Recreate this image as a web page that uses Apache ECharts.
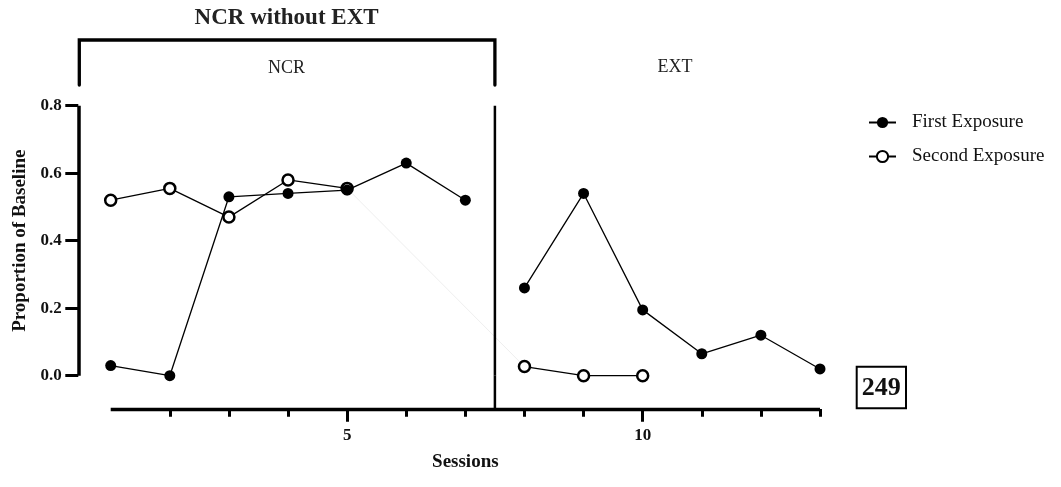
<!DOCTYPE html>
<html>
<head>
<meta charset="utf-8">
<script src="https://cdn.jsdelivr.net/npm/echarts@6/dist/echarts.min.js"></script>
<style>
  html, body { margin: 0; padding: 0; background: #fff; }
  #chart { width: 1061px; height: 487px; }
</style>
</head>
<body>
<div id="chart"></div>
<script>
// Sessions and proportion-of-baseline values for each exposure
const sessions = [1, 2, 3, 4, 5, 6, 7, 8, 9, 10, 11, 12, 13];
const firstExposure = [0.03, 0.00, 0.53, 0.54, 0.55, 0.63, 0.52, 0.26, 0.54, 0.195, 0.065, 0.12, 0.02];
const secondExposure = [0.52, 0.555, 0.47, 0.58, 0.555, null, null, 0.027, 0.0, 0.0, null, null, null];

// Phase boundary between NCR and EXT
const phaseChange = 7.5;
const phaseNames = ['NCR', 'EXT'];

// Axis ticks
const yTicks = [0, 0.2, 0.4, 0.6, 0.8];
const xMinorTicks = [2, 3, 4, 6, 7, 8, 9, 11, 12, 13];
const xMajorTicks = [5, 10];

const titleText = 'NCR without EXT';
const seriesNames = ['First Exposure', 'Second Exposure'];
const panelId = '249';

const FONT = '"Liberation Serif", "Times New Roman", serif';
const INK = '#000';

function pairs(xs, ys, keep) {
  const out = [];
  xs.forEach((x, i) => { if (ys[i] !== null && keep(x)) out.push([x, ys[i]]); });
  return out;
}

const chart = echarts.init(document.getElementById('chart'), null, { renderer: 'canvas' });

const lineStyle = { color: INK, width: 1.3 };
const filledMarker = { color: INK, borderColor: INK, borderWidth: 0 };
const openMarker = { color: '#fff', borderColor: INK, borderWidth: 2.5 };

// last point before and first point after the phase change for the second exposure
const secBefore = pairs(sessions, secondExposure, x => x < phaseChange).slice(-1)[0];
const secAfter = pairs(sessions, secondExposure, x => x > phaseChange)[0];

const option = {
  animation: false,
  backgroundColor: '#fff',
  textStyle: { fontFamily: FONT },
  grid: { left: 110.7, right: 241, top: 105.7, bottom: 111.3, containLabel: false },
  legend: {
    data: seriesNames,
    orient: 'vertical',
    left: 868,
    top: 113,
    padding: 0,
    itemWidth: 27,
    itemHeight: 14,
    itemGap: 15,
    textStyle: { fontFamily: FONT, fontSize: 19, color: '#111', padding: [0, 0, 0, 11] }
  },
  xAxis: [
    {
      type: 'value', min: 1, max: 13, interval: 1, position: 'bottom', offset: 33.3,
      axisLine: { show: true, onZero: false, lineStyle: { color: INK, width: 3.3, cap: 'butt' } },
      axisTick: { show: true, customValues: xMinorTicks, length: 7.7, lineStyle: { color: INK, width: 3 } },
      axisLabel: { show: false },
      splitLine: { show: false },
      name: 'Sessions', nameLocation: 'middle', nameGap: 44,
      nameTextStyle: { fontFamily: FONT, fontSize: 19, fontWeight: 'bold', color: '#111' }
    },
    {
      type: 'value', min: 1, max: 13, interval: 1, position: 'bottom', offset: 33.3,
      axisLine: { show: false, onZero: false },
      axisTick: { show: true, customValues: xMajorTicks, length: 12.7, lineStyle: { color: INK, width: 3 } },
      axisLabel: { show: true, customValues: xMajorTicks, margin: 18,
        fontFamily: FONT, fontSize: 17, fontWeight: 'bold', color: '#111' },
      splitLine: { show: false }
    }
  ],
  yAxis: {
    type: 'value', min: 0, max: 0.8, interval: 0.2, offset: 32.4,
    axisLine: { show: true, onZero: false, lineStyle: { color: INK, width: 3.5, cap: 'butt' } },
    axisTick: { show: true, customValues: yTicks, length: 13, lineStyle: { color: INK, width: 3 } },
    axisLabel: { margin: 16.6, fontFamily: FONT, fontSize: 17, fontWeight: 'bold', color: '#111',
      formatter: v => v.toFixed(1) },
    splitLine: { show: false },
    name: 'Proportion of Baseline', nameLocation: 'middle', nameRotate: 90, nameGap: 46,
    nameTextStyle: { fontFamily: FONT, fontSize: 19, fontWeight: 'bold', color: '#111' }
  },
  series: [
    // faint connector of the second exposure across the phase change
    {
      type: 'line', name: 'connector', data: [secBefore, secAfter],
      symbol: 'none', silent: true, clip: false, z: 1,
      lineStyle: { color: '#efefef', width: 1 }
    },
    // phase change line
    {
      type: 'line', name: 'phase', silent: true, clip: false, z: 1, symbol: 'none',
      data: [[phaseChange, 0.8], [phaseChange, 0]],
      lineStyle: { color: INK, width: 2.5 }
    },
    {
      type: 'line', name: seriesNames[1], data: pairs(sessions, secondExposure, x => x < phaseChange),
      symbol: 'circle', symbolSize: 11, clip: false, z: 3,
      lineStyle, itemStyle: openMarker
    },
    {
      type: 'line', name: seriesNames[1], data: pairs(sessions, secondExposure, x => x > phaseChange),
      symbol: 'circle', symbolSize: 11, clip: false, z: 3,
      lineStyle, itemStyle: openMarker
    },
    {
      type: 'line', name: seriesNames[0], data: pairs(sessions, firstExposure, x => x < phaseChange),
      symbol: 'circle', symbolSize: 11, clip: false, z: 4,
      lineStyle, itemStyle: filledMarker
    },
    {
      type: 'line', name: seriesNames[0], data: pairs(sessions, firstExposure, x => x > phaseChange),
      symbol: 'circle', symbolSize: 11, clip: false, z: 4,
      lineStyle, itemStyle: filledMarker
    }
  ]
};

chart.setOption(option);

// Overlay: phase line down to the offset x axis, phase bracket, title, labels, panel id
const grid = option.grid;
const xAxisY = 487 - grid.bottom + option.xAxis[0].offset;
const yAxisX = grid.left - option.yAxis.offset;
const phaseX = chart.convertToPixel({ xAxisIndex: 0 }, phaseChange);
const bracketTop = 40, bracketBottom = 85;

chart.setOption({
  graphic: [
    {
      type: 'line', z: 5,
      shape: { x1: phaseX, y1: chart.convertToPixel({ yAxisIndex: 0 }, 0), x2: phaseX, y2: xAxisY },
      style: { stroke: INK, lineWidth: 2.5 }
    },
    {
      type: 'polyline', z: 5,
      shape: { points: [[yAxisX + 1, bracketBottom], [yAxisX + 1, bracketTop], [phaseX, bracketTop], [phaseX, bracketBottom]] },
      style: { stroke: INK, lineWidth: 3.3, fill: null, lineJoin: 'miter', lineCap: 'round' }
    },
    {
      type: 'text', z: 5, x: (yAxisX + phaseX) / 2, y: 18,
      style: { text: titleText, font: 'bold 23px ' + FONT, fill: '#222', align: 'center', verticalAlign: 'middle' }
    },
    {
      type: 'text', z: 5, x: (yAxisX + phaseX) / 2, y: 68,
      style: { text: phaseNames[0], font: '18px ' + FONT, fill: '#222', align: 'center', verticalAlign: 'middle' }
    },
    {
      type: 'text', z: 5, x: 675, y: 67,
      style: { text: phaseNames[1], font: '18px ' + FONT, fill: '#222', align: 'center', verticalAlign: 'middle' }
    },
    {
      type: 'rect', z: 5,
      shape: { x: 856.7, y: 366.7, width: 49.3, height: 41.6 },
      style: { fill: '#fff', stroke: INK, lineWidth: 2 }
    },
    {
      type: 'text', z: 6, x: 881.3, y: 388,
      style: { text: panelId, font: 'bold 26px ' + FONT, fill: '#111', align: 'center', verticalAlign: 'middle' }
    }
  ]
});
</script>
</body>
</html>
